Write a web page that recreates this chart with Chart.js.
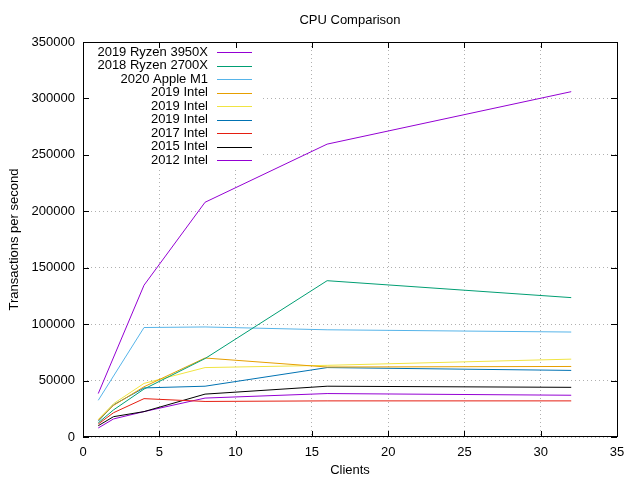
<!DOCTYPE html>
<html>
<head>
<meta charset="utf-8">
<script src="https://cdn.jsdelivr.net/npm/chart.js@4/dist/chart.umd.min.js"></script>
<style>
html,body{margin:0;padding:0;background:#fff;}
#wrap{width:640px;height:480px;position:relative;}
</style>
</head>
<body>
<div id="wrap"><canvas id="c" width="640" height="480"></canvas></div>
<script>
const clients = [1, 2, 4, 8, 16, 32];
const seriesNames = ["2019 Ryzen 3950X", "2018 Ryzen 2700X", "2020 Apple M1", "2019 Intel", "2019 Intel", "2019 Intel", "2017 Intel", "2015 Intel", "2012 Intel"];
const ryzen3950x = [38500, null, 134500, 208000, 259500, 306000];
const ryzen2700x = [12500, 24000, 42500, 69500, 138500, 123500];
const appleM1    = [32500, null, 97000, 97500, 95000, 93000];
const intel2019a = [15000, 28000, 44500, 70000, 62000, 62500];
const intel2019b = [15500, 29500, 47500, 61500, 63500, 69000];
const intel2019c = [14000, 28500, 43500, 45000, 61500, 59000];
const intel2017  = [11500, 21500, 34000, 31500, 32000, 32000];
const intel2015  = [10000, 18000, 22500, 38000, 45000, 44000];
const intel2012  = [8000, 16000, 22500, 34500, 38500, 37000];
const xTicks = [0, 5, 10, 15, 20, 25, 30, 35];
const yTicks = [0, 50000, 100000, 150000, 200000, 250000, 300000, 350000];
const colors = ["#9400d3", "#009e73", "#56b4e9", "#e69f00", "#f0e442", "#0072b2", "#e51e10", "#000000", "#9400d3"];
const allSeries = [ryzen3950x, ryzen2700x, appleM1, intel2019a, intel2019b, intel2019c, intel2017, intel2015, intel2012];

const FONT = '13px "Liberation Sans", Arial, sans-serif';

const datasets = allSeries.map((vals, i) => ({
  label: seriesNames[i],
  data: clients.map((c, j) => ({x: c, y: vals[j]})),
  borderColor: colors[i],
  backgroundColor: colors[i],
  borderWidth: 1,
  pointRadius: 0,
  fill: false,
  tension: 0,
  spanGaps: true
}));

const gnuPlugin = {
  id: 'gnu',
  beforeDatasetsDraw(chart) {
    const ctx = chart.ctx, a = chart.chartArea;
    ctx.save();
    ctx.fillStyle = '#fff';
    ctx.fillRect(a.left + 1, a.top + 1, 176, 124);
    ctx.restore();
  },
  afterDraw(chart) {
    const ctx = chart.ctx, a = chart.chartArea;
    const xs = chart.scales.x, ys = chart.scales.y;
    ctx.save();
    // frame
    ctx.strokeStyle = '#000';
    ctx.lineWidth = 1;
    ctx.strokeRect(Math.round(a.left) + 0.5, Math.round(a.top) + 0.5, Math.round(a.right - a.left) , Math.round(a.bottom - a.top) - 1);
    // inward ticks
    ctx.beginPath();
    xTicks.forEach(v => {
      const px = Math.round(xs.getPixelForValue(v)) + 0.5;
      ctx.moveTo(px, a.bottom); ctx.lineTo(px, a.bottom - 6);
      ctx.moveTo(px, a.top); ctx.lineTo(px, a.top + 6);
    });
    yTicks.forEach(v => {
      const py = Math.round(ys.getPixelForValue(v)) + 0.5;
      ctx.moveTo(a.left, py); ctx.lineTo(a.left + 6, py);
      ctx.moveTo(a.right, py); ctx.lineTo(a.right - 6, py);
    });
    ctx.stroke();
    // title
    ctx.fillStyle = '#000';
    ctx.font = FONT;
    ctx.textAlign = 'center';
    ctx.textBaseline = 'middle';
    ctx.fillText('CPU Comparison', (a.left + a.right) / 2, 20);
    ctx.fillText('Clients', (a.left + a.right) / 2, 470);
    ctx.save();
    ctx.translate(14, (a.top + a.bottom) / 2);
    ctx.rotate(-Math.PI / 2);
    ctx.fillText('Transactions per second', 0, 0);
    ctx.restore();
    // legend
    ctx.textAlign = 'right';
    chart.data.datasets.forEach((ds, i) => {
      const y = 52 + i * 13.5;
      ctx.fillStyle = '#000';
      ctx.fillText(ds.label, 208, y);
      ctx.strokeStyle = ds.borderColor;
      ctx.beginPath();
      ctx.moveTo(217, Math.round(y) + 0.5);
      ctx.lineTo(252, Math.round(y) + 0.5);
      ctx.stroke();
    });
    ctx.restore();
  }
};

new Chart(document.getElementById('c'), {
  type: 'line',
  data: { datasets },
  options: {
    responsive: false,
    animation: false,
    layout: { padding: { top: 42, right: 23, left: 0, bottom: 0 } },
    plugins: { legend: { display: false }, title: { display: false }, tooltip: { enabled: false } },
    scales: {
      x: {
        type: 'linear', min: 0, max: 35,
        afterBuildTicks: s => { s.ticks = xTicks.map(v => ({value: v})); },
        afterFit: s => { s.height = 43; },
        grid: { color: '#b0b0b0', drawTicks: false, lineWidth: 1 },
        border: { display: false, dash: [1, 3] },
        ticks: { color: '#000', font: { family: '"Liberation Sans", Arial, sans-serif', size: 13 }, padding: 8, maxRotation: 0, callback: v => String(v) }
      },
      y: {
        type: 'linear', min: 0, max: 350000,
        afterBuildTicks: s => { s.ticks = yTicks.map(v => ({value: v})); },
        afterFit: s => { s.width = 83; },
        grid: { color: '#b0b0b0', drawTicks: false, lineWidth: 1 },
        border: { display: false, dash: [1, 3] },
        ticks: { color: '#000', font: { family: '"Liberation Sans", Arial, sans-serif', size: 13 }, padding: 8, callback: v => String(v) }
      }
    }
  },
  plugins: [gnuPlugin]
});
</script>
</body>
</html>
